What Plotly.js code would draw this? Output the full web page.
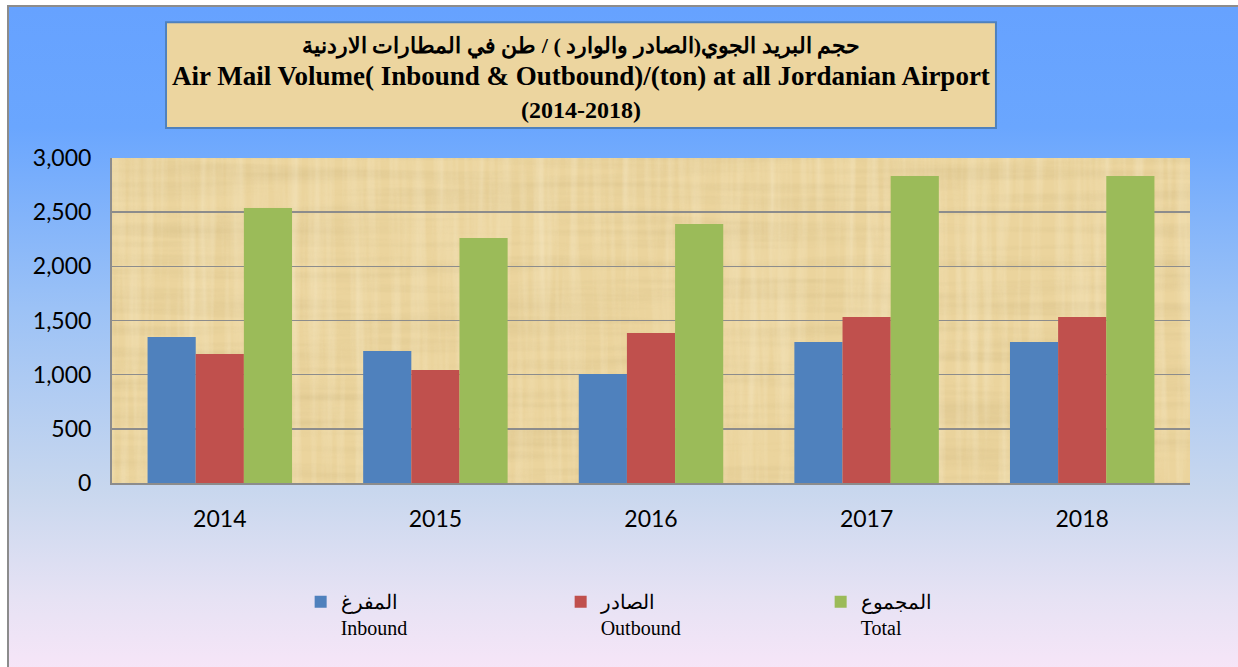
<!DOCTYPE html>
<html>
<head>
<meta charset="utf-8">
<script src="https://cdn.plot.ly/plotly-3.0.1.min.js"></script>
<style>
  html, body { margin:0; padding:0; width:1238px; height:667px; overflow:hidden; background:#ffffff; }
  #bg { position:absolute; left:7px; top:5px; width:1240px; height:670px;
        border-left:2px solid #8c8c8c; border-top:2px solid #8c8c8c;
        background: linear-gradient(to bottom, #66a2ff 0%, #6aa6fe 18%, #9cc2f6 45%, #c8d7ee 72%, #e6e2f4 88%, #f8e6f8 100%); }
  #chart { position:absolute; left:0; top:0; width:1238px; height:667px; }
</style>
</head>
<body>
<div id="bg"></div>
<div id="chart"></div>
<script>
const years = ['2014', '2015', '2016', '2017', '2018'];
const inbound = [1348, 1218, 1006, 1302, 1302];
const outbound = [1191, 1043, 1385, 1532, 1532];
const total = [2539, 2261, 2391, 2834, 2834];
const seriesNames = ['المفرغ<br>Inbound', 'الصادر<br>Outbound', 'المجموع<br>Total'];
const seriesColors = ['#4f81bd', '#c0504d', '#9bbb59'];
const yTicks = [0, 500, 1000, 1500, 2000, 2500, 3000];
const yTickText = ['0', '500', '1,000', '1,500', '2,000', '2,500', '3,000'];

const values = [inbound, outbound, total];
const data = values.map((v, i) => ({
  type: 'bar', x: years, y: v, name: seriesNames[i],
  marker: { color: seriesColors[i] }, hoverinfo: 'x+y'
}));

function papyrus(w, h) {
  const svg = "<svg xmlns='http://www.w3.org/2000/svg' width='" + w + "' height='" + h + "'>" +
    "<filter id='a' x='0' y='0' width='100%' height='100%'><feTurbulence type='fractalNoise' baseFrequency='0.004 0.09' numOctaves='3' seed='3'/>" +
    "<feColorMatrix values='0 0 0 0 0.62  0 0 0 0 0.48  0 0 0 0 0.22  1.4 0 0 0 -0.55'/></filter>" +
    "<filter id='b' x='0' y='0' width='100%' height='100%'><feTurbulence type='fractalNoise' baseFrequency='0.09 0.004' numOctaves='3' seed='7'/>" +
    "<feColorMatrix values='0 0 0 0 0.98  0 0 0 0 0.92  0 0 0 0 0.74  1.4 0 0 0 -0.55'/></filter>" +
    "<rect width='100%' height='100%' fill='#ebd49d'/>" +
    "<rect width='100%' height='100%' filter='url(#a)' opacity='0.55'/>" +
    "<rect width='100%' height='100%' filter='url(#b)' opacity='0.5'/></svg>";
  return 'data:image/svg+xml;charset=utf-8,' + encodeURIComponent(svg);
}

const layout = {
  width: 1238, height: 667,
  paper_bgcolor: 'rgba(0,0,0,0)',
  plot_bgcolor: 'rgba(0,0,0,0)',
  margin: { l: 112, r: 48, t: 158, b: 184 },
  bargap: 0.33, bargroupgap: 0,
  title: {
    text: '<span style="font-size:22px"><b>حجم البريد الجوي(الصادر والوارد ) / طن في المطارات الاردنية</b></span><br><span style="font-size:27px"><b>Air Mail Volume( Inbound &amp; Outbound)/(ton) at all Jordanian Airport</b></span><br><span style="font-size:24px"><b>(2014-2018)</b></span>',
    font: { family: '"Liberation Serif", "Times New Roman", serif', size: 25, color: '#000000' },
    x: 0.435, xanchor: 'center', xref: 'paper',
    y: 0.921, yanchor: 'middle', yref: 'container'
  },
  images: [{
    source: papyrus(1078, 325), xref: 'paper', yref: 'paper',
    x: 0, y: 1, sizex: 1, sizey: 1, sizing: 'stretch',
    xanchor: 'left', yanchor: 'top', layer: 'below'
  }],
  shapes: [{
    type: 'rect', xref: 'paper', yref: 'paper', layer: 'below',
    x0: 0.0501, x1: 0.820, y0: 1.092, y1: 1.418,
    fillcolor: '#ecd59f', line: { color: '#4f81bd', width: 2 }
  }],
  xaxis: {
    type: 'category',
    tickfont: { family: 'Lato, "Liberation Sans", sans-serif', size: 23, color: '#000' },
    ticklabelstandoff: 14,
    showline: true, linecolor: '#8c8c8c', linewidth: 2,
    ticks: '', showgrid: false, fixedrange: true
  },
  yaxis: {
    range: [0, 3000],
    tickvals: yTicks, ticktext: yTickText,
    tickfont: { family: 'Lato, "Liberation Sans", sans-serif', size: 23, color: '#000' },
    ticklabelstandoff: 14,
    showgrid: true, gridcolor: '#8c8c8c', gridwidth: 1.5,
    showline: true, linecolor: '#8c8c8c', linewidth: 2,
    zeroline: false, ticks: '', fixedrange: true
  },
  legend: {
    orientation: 'h', x: 0.175, xanchor: 'left', y: -0.305, yanchor: 'top',
    entrywidth: 215, entrywidthmode: 'pixels',
    valign: 'top', bgcolor: 'rgba(0,0,0,0)',
    font: { family: '"Liberation Serif", "Times New Roman", serif', size: 20, color: '#000' },
    traceorder: 'normal'
  },
  showlegend: true
};

Plotly.newPlot('chart', data, layout, { displayModeBar: false, staticPlot: true });
</script>
</body>
</html>
